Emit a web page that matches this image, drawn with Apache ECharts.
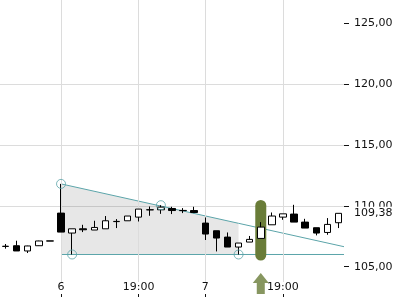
<!DOCTYPE html>
<html>
<head>
<meta charset="utf-8">
<script src="https://cdn.jsdelivr.net/npm/echarts@6/dist/echarts.min.js"></script>
<style>html,body{margin:0;padding:0;background:#fff}#c{width:400px;height:300px}</style>
</head>
<body>
<div id="c"></div>
<script>
// ---- data ----
const categories = [
  '5 20:00','5 21:00','5 22:00','5 23:00','5 24:00',
  '6 12:00','6 13:00','6 14:00','6 15:00','6 16:00','6 17:00','6 18:00','6 19:00','6 20:00','6 21:00','6 22:00','6 23:00','6 24:00',
  '7 12:00','7 13:00','7 14:00','7 15:00','7 16:00','7 17:00','7 18:00','7 19:00','7 20:00','7 21:00','7 22:00','7 23:00','7 24:00'
];
const open  = [106.66,106.72,106.29,106.72,107.10,109.40,107.76,108.11,108.01,108.11,108.70,108.77,109.07,109.66,109.67,109.78,109.62,109.61,108.58,107.95,107.43,106.61,107.02,107.32,108.44,109.07,109.32,108.66,108.20,107.81,108.61];
const close = [106.68,106.29,106.70,107.11,107.12,107.84,108.11,108.03,108.22,108.77,108.72,109.16,109.73,109.68,109.89,109.61,109.60,109.45,107.68,107.35,106.61,106.94,107.24,108.25,109.16,109.34,108.66,108.17,107.76,108.47,109.38];
const low   = [106.48,106.29,106.12,106.70,107.10,107.84,106.00,107.84,108.01,108.11,108.17,108.77,108.71,109.18,109.34,109.32,109.40,109.40,107.19,106.25,106.61,106.00,107.02,107.32,108.44,108.85,108.66,108.17,107.57,107.62,108.17];
const high  = [106.86,107.13,106.72,107.13,107.12,111.80,108.11,108.44,108.77,109.16,108.91,109.16,109.73,109.94,110.05,109.92,109.81,109.92,109.04,107.95,107.81,106.94,107.52,108.66,109.45,109.34,110.08,108.93,108.20,108.99,109.38];

const xTickIdx  = [5, 12, 18, 25];
const xTickText = ['6', '19:00', '7', '19:00'];
const yTicks = [105, 110, 115, 120, 125];
const lastPrice = 109.38;

// trend lines (x in candle index units)
const resistance = [[5, 111.80], [21, 108.56], [30.5, 106.64]];
const supportLevel = 106.00;
const support = [[5, 106.00], [30.5, 106.00]];
const shadedTop = [[5, 111.80], [21, 108.56]];
const pivots = [[5, 111.80], [6, 106.00], [14, 110.05], [21, 106.00]];

// signal highlight
const signalIdx = 23;
const signalLow = 105.50;
const signalHigh = 110.48;
const arrowValue = 103.62;

// ---- chart ----
const teal = '#5ba4a9';
const olive = '#697c38';
const chart = echarts.init(document.getElementById('c'), null, {renderer: 'canvas'});

const candleData = open.map((o, i) => [o, close[i], low[i], high[i]]);
const baseBar = categories.map((c, i) => i === signalIdx ? signalLow : '-');
const bandBar = categories.map((c, i) => i === signalIdx ? +(signalHigh - signalLow).toFixed(2) : '-');

const option = {
  animation: false,
  textStyle: {fontFamily: 'DejaVu Sans'},
  grid: {left: 0, right: 56, top: 0, bottom: 18, containLabel: false},
  xAxis: [
    {type: 'category', data: categories, show: false, position: 'bottom', boundaryGap: true, axisLine: {onZero: false}},
    {type: 'value', min: -0.5, max: 30.5, show: false, position: 'bottom', axisLine: {onZero: false}},
    {
      type: 'category', data: categories, position: 'bottom', offset: 15, boundaryGap: true,
      axisLine: {show: false, onZero: false},
      axisTick: {show: true, inside: true, length: 3, alignWithLabel: true,
        interval: (i) => xTickIdx.includes(i), lineStyle: {color: '#111'}},
      axisLabel: {show: true, inside: true, margin: 4, fontSize: 11, color: '#111',
        interval: (i) => xTickIdx.includes(i),
        formatter: (v, i) => { const k = xTickIdx.indexOf(i); return k >= 0 ? xTickText[k] : ''; }},
      splitLine: {show: false}
    }
  ],
  yAxis: {
    type: 'value', position: 'right', min: 103.74, max: 126.905,
    axisLine: {show: false, onZero: false},
    axisTick: {show: true, length: 5, customValues: yTicks, lineStyle: {color: '#111'}},
    axisLabel: {show: true, margin: 10, fontSize: 11, color: '#111', customValues: yTicks,
      formatter: (v) => v.toFixed(2).replace('.', ',')},
    splitLine: {show: true, showMinLine: false, showMaxLine: false, lineStyle: {color: '#dcdcdc', width: 1}}
  },
  series: [
    {
      name: 'shade', type: 'line', xAxisIndex: 1, data: shadedTop, symbol: 'none',
      lineStyle: {width: 0, opacity: 0},
      areaStyle: {color: 'rgba(0,0,0,0.135)', origin: supportLevel},
      markLine: {
        silent: true, symbol: 'none', label: {show: false},
        lineStyle: {color: '#dcdcdc', width: 1, type: 'solid'},
        data: xTickIdx.map(i => ({xAxis: i}))
      },
      z: 1
    },
    {name: 'resistance', type: 'line', xAxisIndex: 1, data: resistance, symbol: 'none',
      lineStyle: {color: teal, width: 1}, z: 3},
    {name: 'support', type: 'line', xAxisIndex: 1, data: support, symbol: 'none',
      lineStyle: {color: teal, width: 1}, z: 3},
    {name: 'base', type: 'bar', stack: 'sig', data: baseBar, barWidth: 11,
      itemStyle: {color: 'rgba(0,0,0,0)'}, z: 4},
    {name: 'signal', type: 'bar', stack: 'sig', data: bandBar, barWidth: 11,
      itemStyle: {color: olive, borderRadius: 5.5}, z: 4},
    {
      name: 'price', type: 'candlestick', data: candleData, barWidth: 7, z: 5,
      itemStyle: {color: '#ffffff', color0: '#000000', borderColor: '#000000', borderColor0: '#000000', borderWidth: 1},
      markLine: {
        silent: true, symbol: 'none',
        lineStyle: {color: 'rgba(255,255,255,0)', width: 1, type: 'solid'},
        label: {show: true, position: 'end', distance: 8, formatter: lastPrice.toFixed(2).replace('.', ','),
          fontSize: 11, color: '#111', backgroundColor: '#ffffff', padding: [1, 3, 1, 2]},
        data: [{yAxis: lastPrice}]
      }
    },
    {name: 'pivots', type: 'scatter', xAxisIndex: 1, data: pivots, symbol: 'circle', symbolSize: 9,
      itemStyle: {color: 'rgba(0,0,0,0)', borderColor: teal, borderWidth: 1}, z: 6},
    {name: 'arrow', type: 'scatter', data: [[signalIdx, arrowValue]], clip: false,
      symbol: 'path://M8,0 L16,10 L12,10 L12,21 L4,21 L4,10 L0,10 Z', symbolSize: [16, 21],
      itemStyle: {color: olive}, z: 6}
  ]
};
chart.setOption(option);
</script>
</body>
</html>
